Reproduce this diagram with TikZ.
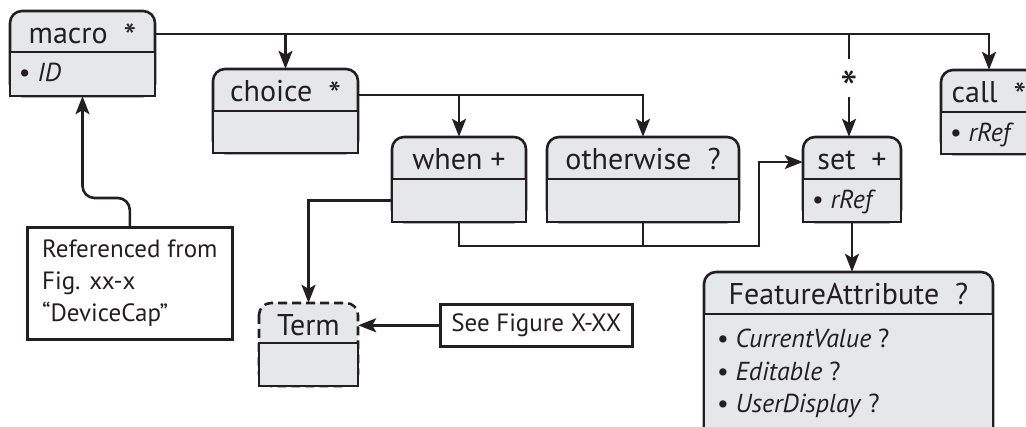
\documentclass[tikz,border=0pt]{standalone}
\usepackage{fontspec}
\setmainfont{PT Sans}
\usetikzlibrary{arrows.meta,fit,calc}
\definecolor{boxfill}{HTML}{E6E7E8}
\definecolor{ink}{HTML}{231F20}
\newcommand\hstar{\raisebox{-6pt}{\fontsize{36}{36}\selectfont *}}
\tikzset{
  inkline/.style={draw=ink, line width=2.6pt},
  hdrshape/.style={inkline, fill=boxfill, rounded corners=12pt},
  bodyshape/.style={inkline, fill=boxfill},
  hdrfont/.style={font=\fontsize{30}{36}\selectfont, text=ink, inner sep=0pt},
  bodyfont/.style={font=\fontsize{26}{32}\selectfont, text=ink, inner sep=0pt, anchor=base west},
  conn/.style={draw=ink, line width=2.6pt},
  arr/.style={conn, -{Stealth[length=18pt,width=14pt,inset=4pt]}},
  notebox/.style={inkline, fill=white, inner sep=0pt, text=ink},
}
% #1 name, #2 x1, #3 y1, #4 x2, #5 ydiv, #6 y2, #7 header style, #8 header text, #9 body code
\newcommand\umlcls[9]{%
  \path[hdrshape,#7] (#2,#3) rectangle (#4,#6);
  \path[bodyshape] (#2,#5) rectangle (#4,#6);
  \node[fit={(#2,#3) (#4,#5)}, inner sep=0pt] (#1H) {};
  \node[fit={(#2,#5) (#4,#6)}, inner sep=0pt] (#1B) {};
  \node[hdrfont, anchor=base] (#1T) at ($(#1H.north)+(0,33)$) {#8};
  #9%
}
\begin{document}
\begin{tikzpicture}[x=1pt,y=-1pt]
\useasboundingbox (0,0) rectangle (1026,427);
\clip (0,0) rectangle (1026,427);

\umlcls{macro}{10}{11}{155}{52}{96}{}{macro~~\hstar}{%
  \node[bodyfont] (macroL) at ($(macroB.north west)+(9,30)$) {• \textit{ID}};}
\umlcls{choice}{213}{69}{358}{111}{153}{}{choice~~\hstar}{}
\umlcls{when}{392}{137}{526}{179}{222}{}{when +}{}
\umlcls{other}{547}{137}{739}{179}{222}{}{otherwise~~?}{}
\umlcls{set}{803}{137}{901}{179}{222}{}{set~~+}{%
  \node[bodyfont] (setL) at ($(setB.north west)+(9,30)$) {• \textit{rRef}};}
\umlcls{call}{941}{70}{1037}{112}{154}{}{call~~\hstar}{%
  \node[bodyfont] (callL) at ($(callB.north west)+(9,30)$) {• \textit{rRef}};}
\umlcls{term}{259}{303}{358}{343}{386}{dash pattern=on 9pt off 5pt}{Term}{}
\umlcls{feat}{704}{272}{993}{314}{445}{}{FeatureAttribute~~?}{%
  \node[bodyfont] (featL1) at ($(featB.north west)+(13,34)$) {• \textit{CurrentValue} ?};
  \node[bodyfont] (featL2) at ($(featB.north west)+(13,66.5)$) {• \textit{Editable} ?};
  \node[bodyfont] (featL3) at ($(featB.north west)+(13,99)$) {• \textit{UserDisplay} ?};}

\node[notebox, minimum width=205pt, minimum height=112pt, align=left,
      font=\fontsize{25}{32}\selectfont, anchor=north west] (note) at (26,226)
      {Referenced from\\Fig. xx-x\\“DeviceCap”};
\node[notebox, minimum width=192pt, minimum height=42pt,
      font=\fontsize{25}{30}\selectfont, anchor=north west] (see) at (439,303)
      {See Figure X-XX};

% macro connectors
\coordinate (macroOut) at ([yshift=-2.5pt]macroH.east);
\draw[arr] (macroOut) -| (callH.north);
\draw[arr] (macroOut -| choiceH.north) -- (choiceH.north);
\node[inner sep=0pt, minimum width=12pt, minimum height=38pt] (star) at (849,78) {};
\node[font=\fontsize{50}{50}\selectfont, text=ink, inner sep=0pt, anchor=base] (starT) at (849,107) {*};
\draw[conn] (macroOut -| star.north) -- (star.north);
\draw[arr] (star.south) -- (star.south |- setH.north);

% choice connectors
\coordinate (choiceOut) at ([yshift=-5pt]choiceH.east);
\draw[arr] (choiceOut) -| (otherH.north);
\draw[arr] (choiceOut -| whenH.north) -- (whenH.north);

% when / otherwise to set
\coordinate (setIn) at ([yshift=-4pt]setH.west);
\coordinate (bus) at (759,246);
\draw[arr] (whenB.south) |- (bus) |- (setIn);
\draw[conn] (otherB.south) -- (otherB.south |- bus);

% when to term, see to term
\draw[arr] (whenB.west) -| (termH.north);
\draw[arr] (see.west) -- (see.west -| termH.east);

% note to macro
\draw[arr, rounded corners=12pt] (note.north) -- ++(0,-28) -| (macroB.south);

% set to feature
\draw[arr] (setB.south) -- (setB.south |- featH.north);
\end{tikzpicture}
\end{document}
